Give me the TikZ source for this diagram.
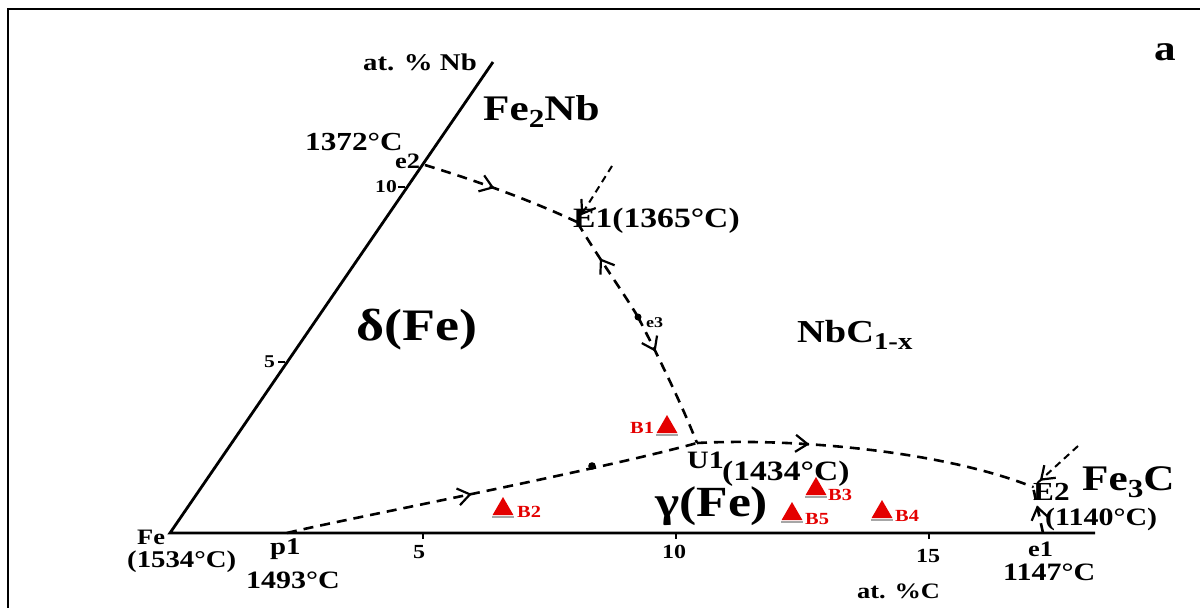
\documentclass[tikz,border=0pt]{standalone}
\usepackage{fontspec}
\setmainfont{Liberation Serif}[FakeStretch=1.2]
\usetikzlibrary{arrows.meta,decorations.markings,shapes.geometric}
\definecolor{bred}{RGB}{228,0,0}
\newcommand{\lowsub}[2]{\raisebox{-0.22em}{\fontsize{#1}{#1}\selectfont #2}}
\begin{document}
\begin{tikzpicture}[x=1pt,y=-1pt,
  lbl/.style={inner sep=0pt, anchor=base west, font=\bfseries\fontsize{#1}{#1}\selectfont},
  redlbl/.style={lbl=#1, text=bred},
  axisline/.style={line width=2.8pt},
  dashline/.style={dash pattern=on 10pt off 7pt, line width=2.6pt},
  barb/.tip={Straight Barb[length=12pt,width=17pt,line width=2.2pt]},
  midarrow/.style={postaction={decorate}, decoration={markings, mark=at position #1 with {\arrow[solid]{barb}}}},
  tri/.style={regular polygon, regular polygon sides=3, fill=bred, minimum size=24pt, inner sep=0pt},
  shadow/.style={draw=gray!70, line width=2pt}]
\useasboundingbox (0,0) rectangle (1200,608);
% frame
\draw[line width=2.5pt] (8,608) -- (8,9) -- (1200,9);
% axes
\coordinate (Fe) at (170,533);
\coordinate (NbEnd) at (493,62);
\coordinate (CEnd) at (1095,533);
\draw[axisline] (NbEnd) -- (Fe) -- (CEnd);
\coordinate (tN5) at (285,362);
\coordinate (tN10) at (405,187);
\draw[line width=1.6pt] (tN5) -- ++(-7,0);
\draw[line width=1.6pt] (tN10) -- ++(-7,0);
\coordinate (tC5) at (423,533);
\coordinate (tC10) at (676,533);
\coordinate (tC15) at (929,533);
\foreach \t in {tC5,tC10,tC15} \draw[line width=1.6pt] (\t) -- ++(0,6);
% invariant points
\coordinate (p1) at (287,533);
\coordinate (e1) at (1043,533);
\coordinate (e2) at (425,165);
\coordinate (E1) at (577,222);
\coordinate (e3) at (638,317);
\coordinate (U1) at (697,443);
\coordinate (E2) at (1033,487);
\coordinate (dotA) at (592,466);
\coordinate (inE1) at (612,166);
\coordinate (inE2) at (1078,446);
% monovariant lines
\draw[dashline, midarrow=0.45] (e2) .. controls (480,182) and (530,200) .. (E1);
\draw[dashline, midarrow=0.62] (e3) .. controls (625,295) and (600,260) .. (E1);
\draw[dashline, midarrow=0.28] (e3) .. controls (655,350) and (680,400) .. (U1);
\fill (e3) circle (3.5);
\draw[dashline, midarrow=0.45] (p1) .. controls (330,522) and (600,470) .. (U1);
\fill (dotA) circle (3.8);
\draw[dashline, midarrow=0.33] (U1) .. controls (790,438) and (940,450) .. (E2);
\draw[dashline, midarrow=0.6] (e1) -- (E2);
\draw[dashline, line width=2pt, dash pattern=on 7pt off 5pt, midarrow=0.88] (inE1) -- (E1);
\draw[dashline, line width=2pt, dash pattern=on 7pt off 5pt, midarrow=0.85] (inE2) -- (E2);
% labels
\node[lbl=24] (labNb) at (363,70) {at. \% Nb};
\node[lbl=36] (labFe2Nb) at (483,120) {Fe\lowsub{26}{2}Nb};
\node[lbl=26] (lab1372) at (305,150) {1372°C};
\node[lbl=22] (labe2) at (395,168) {e2};
\node[lbl=18] (lab10n) at (375,192) {10};
\node[lbl=18] (lab5n) at (264,367) {5};
\node[lbl=45] (labdelta) at (356,340) {δ(Fe)};
\node[lbl=28] (labE1) at (573,227) {E1(1365°C)};
\node[lbl=32] (labNbC) at (797,342) {NbC\lowsub{24}{1-x}};
\node[lbl=15] (labe3) at (646,327) {e3};
\node[lbl=25] (labU1) at (687,468) {U1};
\node[lbl=28] (lab1434) at (722,480) {(1434°C)};
\node[lbl=43] (labgamma) at (655,516) {γ(Fe)};
\node[lbl=26] (labE2) at (1033,500) {E2};
\node[lbl=36] (labFe3C) at (1082,490) {Fe\lowsub{26}{3}C};
\node[lbl=25] (lab1140) at (1045,525) {(1140°C)};
\node[lbl=22] (labe1) at (1028,556) {e1};
\node[lbl=25] (lab1147) at (1003,580) {1147°C};
\node[lbl=20] (lab15) at (916,562) {15};
\node[lbl=20] (lab10c) at (662,558) {10};
\node[lbl=20] (lab5c) at (413,558) {5};
\node[lbl=22] (labatC) at (857,598) {at. \%C};
\node[lbl=22] (labFe) at (137,544) {Fe};
\node[lbl=24] (lab1534) at (127,567) {(1534°C)};
\node[lbl=24] (labp1) at (270,554) {p1};
\node[lbl=25] (lab1493) at (246,588) {1493°C};
\node[lbl=36] (laba) at (1154,60) {a};
% sample markers
\foreach \n/\x/\y in {t1/667/427, t2/503/509, t3/816/489, t4/882/512, t5/792/514} {
  \node[tri] (\n) at (\x,\y) {};
  \draw[shadow] ([yshift=-2pt]\n.corner 2) -- ([yshift=-2pt]\n.corner 3);
}
\node[redlbl=17] (labB1) at (630,433) {B1};
\node[redlbl=17] (labB2) at (517,517) {B2};
\node[redlbl=17] (labB3) at (828,500) {B3};
\node[redlbl=17] (labB4) at (895,521) {B4};
\node[redlbl=17] (labB5) at (805,524) {B5};
\end{tikzpicture}
\end{document}
